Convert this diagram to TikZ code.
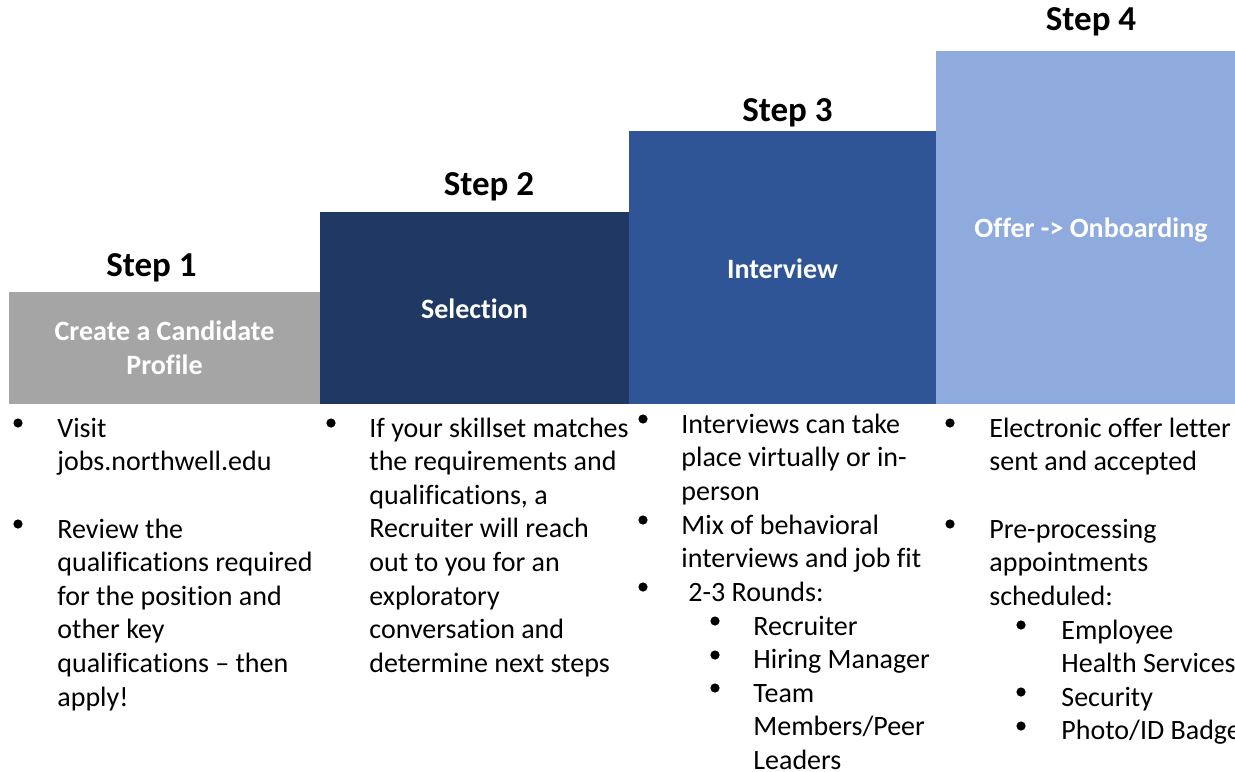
\documentclass[tikz,border=0pt]{standalone}
\usepackage{fontspec}
\setmainfont{Carlito}[Ligatures=NoCommon]
\definecolor{boxgray}{HTML}{A5A5A5}
\definecolor{boxnavy}{HTML}{203864}
\definecolor{boxblue}{HTML}{2F5597}
\definecolor{boxlight}{HTML}{8FAADC}
\tikzset{
  stepbox/.style={draw=none, inner sep=0pt, text=white, align=center,
    font=\fontsize{14}{17}\selectfont\bfseries},
  oneline/.style={text height=10.8pt, text depth=0pt},
  steptitle/.style={inner sep=0pt, anchor=base, font=\fontsize{17.5}{21}\selectfont\bfseries},
  bodytext/.style={inner sep=0pt, anchor=base west, text width=300pt, align=flush left,
    font=\fontsize{14}{16.8}\selectfont},
  dot/.style={circle, fill=black, inner sep=0pt, minimum size=4.6pt}
}
\begin{document}
\begin{tikzpicture}[x=0.5pt, y=-0.5pt]
\useasboundingbox (0,0) rectangle (1235,771);
% boxes
\node[stepbox, fill=boxgray, minimum width=155.5pt, minimum height=56pt] (b1) at (164.5,348) {Create a Candidate\\Profile};
\node[stepbox, oneline, fill=boxnavy, minimum width=154.5pt, minimum height=96pt] (b2) at (474.5,308) {Selection};
\node[stepbox, oneline, fill=boxblue, minimum width=153.5pt, minimum height=136.5pt] (b3) at (782.5,267.5) {Interview};
\node[stepbox, text height=10pt, text depth=0pt, fill=boxlight, minimum width=155pt, minimum height=176.5pt] (b4) at (1091,227.5) {Offer -> Onboarding};
% step titles
\node[steptitle] (s1) at (151.5,276) {Step 1};
\node[steptitle] (s2) at (489,195) {Step 2};
\node[steptitle] (s3) at (787.5,121) {Step 3};
\node[steptitle] (s4) at (1091,31) {Step 4};
% column 1
\node[dot] (d11) at (18,423) {};
\node[bodytext] (t11) at (57,437) {Visit\\jobs.northwell.edu};
\node[dot] (d12) at (18,524) {};
\node[bodytext] (t12) at (57,538) {Review the\\qualifications required\\for the position and\\other key\\qualifications – then\\apply!};
% column 2
\node[dot] (d21) at (331,423) {};
\node[bodytext] (t21) at (369,437) {If your skillset matches\\the requirements and\\qualifications, a\\Recruiter will reach\\out to you for an\\exploratory\\conversation and\\determine next steps};
% column 3
\node[dot] (d31) at (643,419) {};
\node[bodytext] (t31) at (681,433) {Interviews can take\\place virtually or in-\\person};
\node[dot] (d32) at (643,520) {};
\node[bodytext] (t32) at (681,534) {Mix of behavioral\\interviews and job fit};
\node[dot] (d33) at (643,587) {};
\node[bodytext] (t33) at (688,601) {2-3 Rounds:};
\node[dot] (d34) at (715,621) {};
\node[bodytext] (t34) at (753,635) {Recruiter};
\node[dot] (d35) at (715,655) {};
\node[bodytext] (t35) at (753,668) {Hiring Manager};
\node[dot] (d36) at (715,688) {};
\node[bodytext] (t36) at (753,702) {Team\\Members/Peer\\Leaders};
% column 4
\node[dot] (d41) at (950,423) {};
\node[bodytext] (t41) at (989,437) {Electronic offer letter\\sent and accepted};
\node[dot] (d42) at (950,524) {};
\node[bodytext] (t42) at (989,538) {Pre-processing\\appointments\\scheduled:};
\node[dot] (d43) at (1021,625) {};
\node[bodytext] (t43) at (1061,639) {Employee\\Health Services};
\node[dot] (d44) at (1021,692) {};
\node[bodytext] (t44) at (1061,706) {Security};
\node[dot] (d45) at (1021,726) {};
\node[bodytext] (t45) at (1061,739) {Photo/ID Badge};
\end{tikzpicture}
\end{document}
